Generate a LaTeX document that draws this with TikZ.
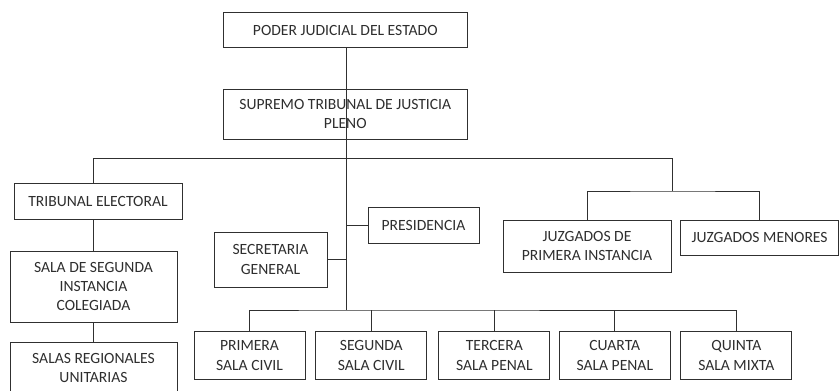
\documentclass[tikz,border=0pt]{standalone}
\usepackage{fontspec}
\setmainfont{Carlito}
\usepackage{tikz}
\usetikzlibrary{positioning}
\definecolor{txt}{HTML}{2E2E2E}
\definecolor{linec}{HTML}{303030}

\begin{document}
\begin{tikzpicture}[x=1pt,y=-1pt,on grid,line width=0.8pt,
org/.style ={draw=linec, text=txt, align=center, inner sep=0pt,
  font=\fontsize{15.6}{19.3}\selectfont},
sala/.style ={org, minimum width=111pt, minimum height=47.6pt},
link/.style ={draw=linec}]
\useasboundingbox (0,0) rectangle (839,391);
% top of the chart
\node[org, minimum width=244pt, minimum height=35pt] (PJ) at (345.3,30.2) {PODER JUDICIAL DEL ESTADO};
\node[org, minimum width=244pt, minimum height=50pt] (ST) [below=84.1pt of PJ] {SUPREMO TRIBUNAL DE JUSTICIA\\PLENO};
% left branch
\node[org, minimum width=168pt, minimum height=35.7pt] (TE) at (98,201.2) {TRIBUNAL ELECTORAL};
\node[org, minimum width=167pt, minimum height=71pt] (SS) at (93.5,286.5) {SALA DE SEGUNDA\\INSTANCIA\\COLEGIADA};
\node[org, minimum width=167pt, minimum height=52pt] (SR) [below=81.5pt of SS] {SALAS REGIONALES\\UNITARIAS};
% middle
\node[org, minimum width=111pt, minimum height=36pt] (PR) at (423.5,225) {PRESIDENCIA};
\node[org, minimum width=113pt, minimum height=55pt] (SG) at (270.5,259.5) {SECRETARIA\\GENERAL};
% right branch
\node[org, minimum width=168pt, minimum height=52.7pt] (JP) at (587,246.3) {JUZGADOS DE\\PRIMERA INSTANCIA};
\node[org, minimum width=158pt, minimum height=35.7pt] (JM) at (759.6,237.8) {JUZGADOS MENORES};
% salas
\node[sala] (S1) at (249.5,355.5) {PRIMERA\\SALA CIVIL};
\node[sala] (S2) [right=121.8pt of S1] {SEGUNDA\\SALA CIVIL};
\node[sala] (S3) [right=123pt of S2] {TERCERA\\SALA PENAL};
\node[sala] (S4) [right=120.5pt of S3] {CUARTA\\SALA PENAL};
\node[sala] (S5) [right=121.5pt of S4] {QUINTA\\SALA MIXTA};

\coordinate (bus) at (346.7,158.3);
\coordinate (jbus) at (672,191);
\coordinate (sbus) at (346.7,310);

\path[link] (PJ.south -| bus) -- (ST.south -| bus);
\path[link] (ST.south -| bus) -- (sbus);
\path[link] (SS.north |- TE.north) |- (bus) -| (jbus);
\path[link] (TE.south -| SS.north) -- (SS.north);
\path[link] (SS.south) -- (SR.north);
\path[link] (bus |- PR.west) -- (PR.west);
\path[link] (SG.east) -- (SG.east -| bus);
\path[link] (JP.north) |- (jbus) -| (JM.north);
\path[link] (S1.north) |- (sbus) -| (S5.north);
\foreach \s in {S2,S3,S4}
  \path[link] (\s.north) -- (\s.north |- sbus);
\end{tikzpicture}
\end{document}
